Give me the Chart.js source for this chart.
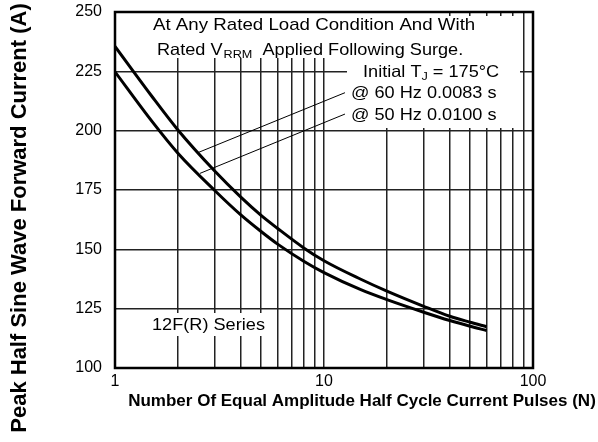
<!DOCTYPE html>
<html>
<head>
<meta charset="utf-8">
<script src="https://cdn.jsdelivr.net/npm/chart.js@4.4.1/dist/chart.umd.min.js"></script>
<style>
  html, body { margin: 0; padding: 0; background: #fff; }
  #wrap { width: 598px; height: 442px; }
</style>
</head>
<body>
<div id="wrap"><canvas id="surgeChart" width="598" height="442"></canvas></div>
<script>
// Number of half cycle pulses (x) and peak current in A (y)
const pulses = [1, 1.5, 2, 3, 4, 5, 6, 8, 10, 15, 20, 30, 40, 50, 60];
const current60Hz = [235.5, 214.5, 200.3, 183, 172, 164.3, 158.8, 150.6, 145.2, 137.4, 132.4, 126, 121.8, 119.3, 117.4];
const current50Hz = [224.8, 204, 190.5, 174.8, 164.5, 157.5, 152.2, 145, 140.2, 133, 128.8, 123.5, 120, 117.6, 115.8];

// Axis ticks
const xTicks = [1, 2, 3, 4, 5, 6, 7, 8, 9, 10, 20, 30, 40, 50, 60, 70, 80, 90, 100];
const xLabels = { 1: "1", 10: "10", 100: "100" };
const yTicks = [100, 125, 150, 175, 200, 225, 250];

// Leader lines from the notes to the curves, in data units [N, A]
const leader60 = [[2.47, 190.6], [12.6, 216]];
const leader50 = [[2.55, 182], [12.6, 207]];

const FONT = '"Liberation Sans", Arial, Helvetica, sans-serif';
const SX = 1.1; // the note text in the reference is a bit wider than plain Arial

function wideText(ctx, str, x, y, size) {
  ctx.save();
  ctx.translate(x, y);
  ctx.scale(SX, 1);
  ctx.font = `${size}px ${FONT}`;
  ctx.fillText(str, 0, 0);
  const w = ctx.measureText(str).width * SX;
  ctx.restore();
  return w;
}

// Notes: white boxes behind text, leader lines, frame and axis titles
const notesPlugin = {
  id: "notes",
  beforeDatasetsDraw(chart) {
    const ctx = chart.ctx;
    const xs = chart.scales.x;
    const ys = chart.scales.y;
    ctx.save();

    // white boxes that cut the grid under the text
    ctx.fillStyle = "#fff";
    ctx.fillRect(148, 13, 292, 45);
    ctx.fillRect(440, 16, 80, 42);
    ctx.fillRect(347, 58, 173, 70);
    ctx.fillRect(148, 313, 118, 23);

    // leader lines
    ctx.strokeStyle = "#000";
    ctx.lineWidth = 1;
    [leader60, leader50].forEach((seg) => {
      ctx.beginPath();
      ctx.moveTo(xs.getPixelForValue(seg[0][0]), ys.getPixelForValue(seg[0][1]));
      ctx.lineTo(xs.getPixelForValue(seg[1][0]), ys.getPixelForValue(seg[1][1]));
      ctx.stroke();
    });

    ctx.fillStyle = "#000";
    ctx.textBaseline = "alphabetic";
    ctx.textAlign = "left";
    wideText(ctx, "At Any Rated Load Condition And With", 153, 30, 17);

    let px = 157;
    px += wideText(ctx, "Rated V", px, 55, 16.5);
    px += 1;
    px += wideText(ctx, "RRM", px, 58, 11.5);
    wideText(ctx, "  Applied Following Surge.", px, 55, 16.5);

    px = 363;
    px += wideText(ctx, "Initial T", px, 77, 16.5);
    px += wideText(ctx, "J", px, 80, 11.5);
    wideText(ctx, " = 175°C", px, 77, 16.5);

    wideText(ctx, "@ 60 Hz 0.0083 s", 351, 98, 16.5);
    wideText(ctx, "@ 50 Hz 0.0100 s", 351, 120, 16.5);
    wideText(ctx, "12F(R) Series", 152, 330, 16.5);

    ctx.restore();
  },
  afterDraw(chart) {
    const ctx = chart.ctx;
    const a = chart.chartArea;
    ctx.save();
    ctx.strokeStyle = "#000";
    ctx.lineWidth = 2.5;
    ctx.strokeRect(a.left, a.top, a.right - a.left, a.bottom - a.top);

    ctx.fillStyle = "#000";
    ctx.font = `bold 17px ${FONT}`;
    ctx.textAlign = "center";
    ctx.textBaseline = "alphabetic";
    ctx.fillText("Number Of Equal Amplitude Half Cycle Current Pulses (N)", 362, 406);

    ctx.translate(26, 218);
    ctx.rotate(-Math.PI / 2);
    ctx.font = `bold 22px ${FONT}`;
    ctx.fillText("Peak Half Sine Wave Forward Current (A)", 0, 0);
    ctx.restore();
  },
};

const ctx = document.getElementById("surgeChart").getContext("2d");
const surgeChart = new Chart(ctx, {
  type: "line",
  data: {
    labels: pulses,
    datasets: [
      {
        label: "@ 60 Hz 0.0083 s",
        data: pulses.map((n, i) => ({ x: n, y: current60Hz[i] })),
        borderColor: "#000",
        borderWidth: 3,
        pointRadius: 0,
        cubicInterpolationMode: "monotone",
        fill: false,
      },
      {
        label: "@ 50 Hz 0.0100 s",
        data: pulses.map((n, i) => ({ x: n, y: current50Hz[i] })),
        borderColor: "#000",
        borderWidth: 3,
        pointRadius: 0,
        cubicInterpolationMode: "monotone",
        fill: false,
      },
    ],
  },
  options: {
    responsive: false,
    animation: false,
    events: [],
    layout: { padding: { left: 0, right: 65, top: 12, bottom: 0 } },
    plugins: {
      legend: { display: false },
      tooltip: { enabled: false },
    },
    scales: {
      x: {
        type: "logarithmic",
        min: 1,
        max: 100,
        afterBuildTicks: (scale) => {
          scale.ticks = xTicks.map((v) => ({ value: v }));
        },
        afterFit: (scale) => {
          scale.height = 74;
          scale.paddingLeft = 0;
          scale.paddingRight = 0;
        },
        grid: { color: "#222", lineWidth: 1.5, drawTicks: false },
        border: { display: false },
        ticks: {
          autoSkip: false,
          maxRotation: 0,
          padding: 4,
          color: "#000",
          font: { family: FONT, size: 16 },
          callback: (value) => xLabels[value] || "",
        },
      },
      y: {
        type: "linear",
        min: 100,
        max: 250,
        afterBuildTicks: (scale) => {
          scale.ticks = yTicks.map((v) => ({ value: v }));
        },
        afterFit: (scale) => {
          scale.width = 115;
          scale.paddingTop = 0;
          scale.paddingBottom = 0;
        },
        grid: { color: "#222", lineWidth: 1.5, drawTicks: false },
        border: { display: false },
        ticks: {
          padding: 13,
          color: "#000",
          font: { family: FONT, size: 16 },
        },
      },
    },
  },
  plugins: [notesPlugin],
});
</script>
</body>
</html>
